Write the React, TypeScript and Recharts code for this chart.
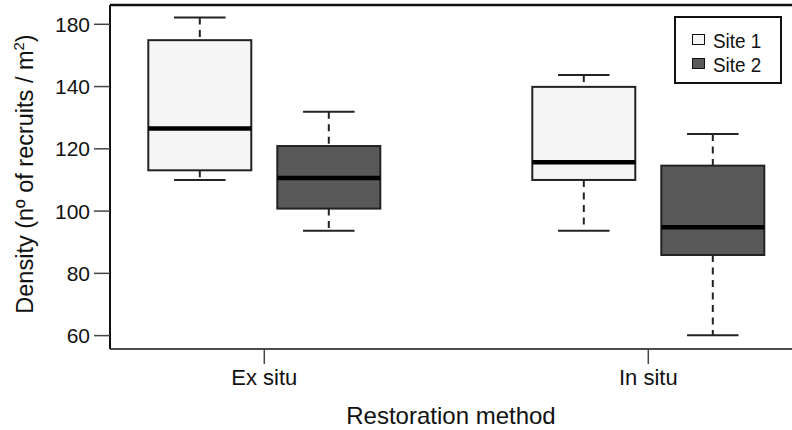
import React from 'react';
import { ComposedChart, Bar, XAxis, YAxis, ReferenceLine, Legend } from 'recharts';

const categories = ['Ex situ', 'In situ'];
const seriesNames = ['Site 1', 'Site 2'];
const seriesFills = ['#f5f5f5', '#595959'];

const site1Min = [110, 93.7];
const site1Q1 = [113.1, 110];
const site1Median = [126.5, 115.7];
const site1Q3 = [154.9, 139.9];
const site1Max = [162.2, 143.7];

const site2Min = [93.7, 60.1];
const site2Q1 = [100.8, 85.9];
const site2Median = [110.6, 94.8];
const site2Q3 = [120.9, 114.6];
const site2Max = [131.9, 124.8];

const yTicks = [60, 80, 100, 120, 140, 160];
const yTickLabels = ['60', '80', '100', '120', '140', '180'];
const yDomain: [number, number] = [55.7, 166.2];

const data = categories.map((c, i) => ({
  category: c,
  s1: [site1Min[i], site1Max[i]],
  s1Stats: { min: site1Min[i], q1: site1Q1[i], median: site1Median[i], q3: site1Q3[i], max: site1Max[i] },
  s2: [site2Min[i], site2Max[i]],
  s2Stats: { min: site2Min[i], q1: site2Q1[i], median: site2Median[i], q3: site2Q3[i], max: site2Max[i] },
}));

const FONT = '"Liberation Sans", Arial, sans-serif';

const makeBoxShape = (statsKey: string, fill: string) => (props: any) => {
  const { x, y, width, height, payload } = props;
  const st = payload[statsKey];
  const top = Math.min(y, y + height);
  const bottom = Math.max(y, y + height);
  const span = st.max - st.min;
  const py = (v: number) => top + ((st.max - v) / span) * (bottom - top);
  const cx = x + width / 2;
  const capHalf = width / 4;
  return (
    <g>
      <line x1={cx} x2={cx} y1={py(st.max)} y2={py(st.q3)} stroke="#222" strokeWidth={2} strokeDasharray="7 5.5" />
      <line x1={cx} x2={cx} y1={py(st.q1)} y2={py(st.min)} stroke="#222" strokeWidth={2} strokeDasharray="7 5.5" />
      <line x1={cx - capHalf} x2={cx + capHalf} y1={py(st.max)} y2={py(st.max)} stroke="#222" strokeWidth={2} />
      <line x1={cx - capHalf} x2={cx + capHalf} y1={py(st.min)} y2={py(st.min)} stroke="#222" strokeWidth={2} />
      <rect x={x} y={py(st.q3)} width={width} height={py(st.q1) - py(st.q3)} fill={fill} stroke="#222" strokeWidth={2} />
      <line x1={x} x2={x + width} y1={py(st.median)} y2={py(st.median)} stroke="#000" strokeWidth={4.5} />
    </g>
  );
};

const LegendBox = () => (
  <div
    style={{
      border: '2px solid #111',
      background: '#fff',
      width: 104,
      height: 64,
      boxSizing: 'content-box',
      color: '#111',
    }}
  >
    <div style={{ height: 10.7 }} />
    {seriesNames.map((n, i) => (
      <div key={n} style={{ display: 'flex', alignItems: 'center', height: 24 }}>
        <span
          style={{
            display: 'inline-block',
            boxSizing: 'border-box',
            width: 13,
            height: 11,
            marginLeft: 16,
            marginRight: 8,
            position: 'relative',
            top: -1.5,
            background: seriesFills[i],
            border: '1.5px solid #111',
          }}
        />
        <span
          style={{
            display: 'inline-block',
            height: 24,
            lineHeight: '24px',
            fontSize: 21,
            fontFamily: FONT,
            transform: 'scaleX(0.9)',
            transformOrigin: 'left center',
            whiteSpace: 'nowrap',
          }}
        >
          {n}
        </span>
      </div>
    ))}
  </div>
);

const YTitle = (props: any) => {
  const vb = props.viewBox;
  const cx = 33;
  const cy = vb.y + vb.height / 2 - 3;
  return (
    <text
      x={cx}
      y={cy}
      transform={`rotate(-90, ${cx}, ${cy})`}
      textAnchor="middle"
      fontFamily={FONT}
      fontSize={23.5}
      fill="#111"
    >
      Density (nº of recruits / m
      <tspan dy={-9} fontSize={15}>2</tspan>
      <tspan dy={9}>)</tspan>
    </text>
  );
};

const XTitle = (props: any) => {
  const vb = props.viewBox;
  return (
    <text x={vb.x + vb.width / 2} y={vb.y + 75} textAnchor="middle" fontFamily={FONT} fontSize={24} fill="#111">
      Restoration method
    </text>
  );
};

export default function App() {
  return (
    <div style={{ position: 'absolute', left: 0, top: 0, width: 792, height: 430, overflow: 'hidden', background: '#fff' }}>
      <ComposedChart
        width={792}
        height={430}
        data={data}
        margin={{ top: 5, right: 0, bottom: 21, left: 0 }}
        barGap={26}
      >
        <XAxis
          dataKey="category"
          height={60}
          padding={{ left: -37.7, right: -48.3 }}
          tickSize={15}
          tickMargin={5}
          axisLine={{ stroke: '#111', strokeWidth: 1.5 }}
          tickLine={{ stroke: '#444', strokeWidth: 1.5 }}
          tick={{ fontFamily: FONT, fontSize: 22, fill: '#111' }}
          label={<XTitle />}
        />
        <YAxis
          type="number"
          domain={yDomain}
          ticks={yTicks}
          interval={0}
          width={110}
          tickSize={16}
          tickMargin={4}
          tickFormatter={(v: number) => yTickLabels[yTicks.indexOf(v)]}
          axisLine={{ stroke: '#111', strokeWidth: 2 }}
          tickLine={{ stroke: '#444', strokeWidth: 1.5 }}
          tick={{ fontFamily: FONT, fontSize: 21, fill: '#111' }}
          label={<YTitle />}
          allowDataOverflow
        />
        <ReferenceLine y={yDomain[1]} stroke="#111" strokeWidth={2.5} ifOverflow="visible" />
        <Legend
          layout="horizontal"
          verticalAlign="middle"
          align="center"
          content={<LegendBox />}
          wrapperStyle={{ position: 'absolute', left: 674, top: 16, width: 108, height: 68 }}
        />
        <Bar dataKey="s1" name={seriesNames[0]} barSize={103} shape={makeBoxShape('s1Stats', seriesFills[0])} isAnimationActive={false} activeBar={false} />
        <Bar dataKey="s2" name={seriesNames[1]} barSize={103} shape={makeBoxShape('s2Stats', seriesFills[1])} isAnimationActive={false} activeBar={false} />
      </ComposedChart>
    </div>
  );
}
